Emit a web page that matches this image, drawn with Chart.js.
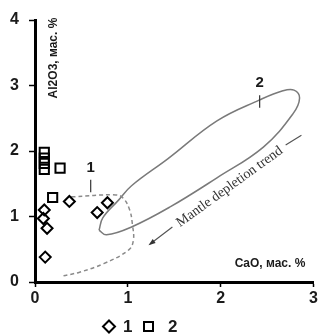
<!DOCTYPE html>
<html>
<head>
<meta charset="utf-8">
<script src="https://cdn.jsdelivr.net/npm/chart.js@4/dist/chart.umd.min.js"></script>
<style>
  html, body { margin: 0; padding: 0; background: #fff; }
  #wrap { width: 322px; height: 335px; }
</style>
</head>
<body>
<div id="wrap"><canvas id="chart"></canvas></div>
<script>
const xTicks = [0, 1, 2, 3];
const yTicks = [0, 1, 2, 3, 4];

// группа 1 (ромбы)
const caO1 = [0.10, 0.09, 0.13, 0.11, 0.37, 0.67, 0.78];
const al1  = [1.10, 0.97, 0.82, 0.38, 1.23, 1.06, 1.21];
// группа 2 (квадраты)
const caO2 = [0.10, 0.10, 0.10, 0.10, 0.27, 0.19];
const al2  = [1.98, 1.89, 1.81, 1.72, 1.74, 1.29];

// поле 2 (эллипс)
const field2X = [0.69, 0.73, 0.90, 1.04, 1.43, 1.96, 2.42, 2.67, 2.79, 2.85, 2.78, 2.46, 1.96, 1.46, 1.04, 0.77, 0.69];
const field2Y = [0.79, 0.98, 1.25, 1.47, 1.88, 2.46, 2.78, 2.92, 2.93, 2.81, 2.57, 2.06, 1.59, 1.15, 0.84, 0.72, 0.79];
// поле 1 (пунктир)
const field1X = [0.39, 0.87, 0.95, 1.02, 1.05, 1.06, 1.01, 0.74, 0.48, 0.29];
const field1Y = [1.30, 1.33, 1.28, 1.10, 0.87, 0.64, 0.49, 0.28, 0.15, 0.09];
// тренд истощения мантии
const trendX = [2.87, 2.70, null, 1.48, 1.24];
const trendY = [2.24, 2.09, null, 0.84, 0.58];

const labels = ['1', '2'];
const labelX = [0.60, 2.42];
const labelY = [1.74, 3.04];
const tickTop = [1.56, 2.85];
const tickBottom = [1.37, 2.66];

const pts = (xs, ys) => xs.map((x, i) => ({ x: x === null ? 2 : x, y: ys[i] }));
const ink = '#1b1b1b';

const overlay = {
  id: 'overlay',
  afterDatasetsDraw(chart) {
    const ctx = chart.ctx;
    const sx = chart.scales.x, sy = chart.scales.y;
    ctx.save();
    ctx.fillStyle = ink;

    // подписи полей
    ctx.font = 'bold 15px "Liberation Sans", Arial, sans-serif';
    ctx.textAlign = 'center';
    ctx.textBaseline = 'middle';
    labels.forEach((t, i) => ctx.fillText(t, sx.getPixelForValue(labelX[i]), sy.getPixelForValue(labelY[i])));

    // надпись тренда
    const x1 = sx.getPixelForValue(trendX[1]), y1 = sy.getPixelForValue(trendY[1]);
    const x3 = sx.getPixelForValue(trendX[3]), y3 = sy.getPixelForValue(trendY[3]);
    const ang = Math.atan2(y1 - y3, x1 - x3);
    ctx.save();
    ctx.translate((x1 + x3) / 2, (y1 + y3) / 2);
    ctx.rotate(ang);
    ctx.fillStyle = '#333';
    ctx.font = '14px "Liberation Serif", "Times New Roman", serif';
    ctx.fillText('Mantle depletion trend', 0, 1);
    ctx.restore();

    // стрелка
    const ax = sx.getPixelForValue(trendX[4]), ay = sy.getPixelForValue(trendY[4]);
    ctx.save();
    ctx.translate(ax, ay);
    ctx.rotate(ang + Math.PI);
    ctx.fillStyle = '#333';
    ctx.beginPath();
    ctx.moveTo(2, 0);
    ctx.lineTo(-5, -2.5);
    ctx.lineTo(-5, 2.5);
    ctx.closePath();
    ctx.fill();
    ctx.restore();

    // названия осей
    ctx.font = 'bold 12px "Liberation Sans", Arial, sans-serif';
    ctx.fillStyle = ink;
    ctx.fillText('CaO, мас. %', 270, 264);
    ctx.save();
    ctx.translate(54, 58);
    ctx.rotate(-Math.PI / 2);
    ctx.fillText('Al2O3, мас. %', 0, 0);
    ctx.restore();

    // легенда
    ctx.strokeStyle = '#000';
    ctx.lineWidth = 2;
    ctx.beginPath();
    ctx.moveTo(109, 320.5); ctx.lineTo(115, 326.5); ctx.lineTo(109, 332.5); ctx.lineTo(103, 326.5);
    ctx.closePath();
    ctx.stroke();
    ctx.strokeRect(144, 322, 9, 9);
    ctx.font = 'bold 17px "Liberation Sans", Arial, sans-serif';
    ctx.textAlign = 'left';
    ctx.fillText('1', 123, 327);
    ctx.fillText('2', 168, 327);
    ctx.restore();
  }
};

const lineDs = (data, color, width, dash, tension) => ({
  type: 'scatter', data, showLine: true, pointRadius: 0, borderColor: color,
  borderWidth: width, borderDash: dash, tension, fill: false, spanGaps: false
});

new Chart(document.getElementById('chart'), {
  type: 'scatter',
  data: {
    datasets: [
      { data: pts(caO2, al2), pointStyle: 'rect', pointRadius: 6.5, pointBorderWidth: 2,
        borderColor: '#000', backgroundColor: 'rgba(255,255,255,0)' },
      { data: pts(caO1, al1), pointStyle: 'rectRot', pointRadius: 5.5, pointBorderWidth: 2,
        borderColor: '#000', backgroundColor: 'rgba(255,255,255,0)' },
      lineDs([{ x: labelX[0], y: tickTop[0] }, { x: labelX[0], y: tickBottom[0] }], '#333', 1.2, [], 0),
      lineDs([{ x: labelX[1], y: tickTop[1] }, { x: labelX[1], y: tickBottom[1] }], '#333', 1.2, [], 0),
      lineDs(pts(trendX, trendY), '#555', 1.2, [], 0),
      lineDs(pts(field1X, field1Y), '#8a8a8a', 1.5, [4, 3], 0.4),
      lineDs(pts(field2X, field2Y), '#7a7a7a', 1.5, [], 0.4)
    ]
  },
  options: {
    responsive: true,
    maintainAspectRatio: false,
    animation: false,
    layout: { padding: { top: 20, right: 0, bottom: 0, left: 0 } },
    plugins: { legend: { display: false }, tooltip: { enabled: false } },
    scales: {
      x: {
        type: 'linear', min: 0, max: 3,
        afterBuildTicks: s => { s.ticks = xTicks.map(v => ({ value: v })); },
        afterFit: s => { s.height = 53; s.paddingRight = 4; },
        ticks: { color: ink, padding: 2, font: { family: '"Liberation Sans", Arial, sans-serif', size: 16, weight: 'bold' } },
        grid: { drawOnChartArea: false, drawTicks: true, tickLength: 5, tickColor: '#000', tickWidth: 1.5 },
        border: { color: '#000', width: 3 }
      },
      y: {
        type: 'linear', min: 0, max: 4,
        afterBuildTicks: s => { s.ticks = yTicks.map(v => ({ value: v })); },
        afterFit: s => { s.width = 35; },
        ticks: { color: ink, padding: 10, font: { family: '"Liberation Sans", Arial, sans-serif', size: 16, weight: 'bold' } },
        grid: { drawOnChartArea: false, drawTicks: true, tickLength: 6, tickColor: '#000', tickWidth: 1.5 },
        border: { color: '#000', width: 3 }
      }
    }
  },
  plugins: [overlay]
});
</script>
</body>
</html>
